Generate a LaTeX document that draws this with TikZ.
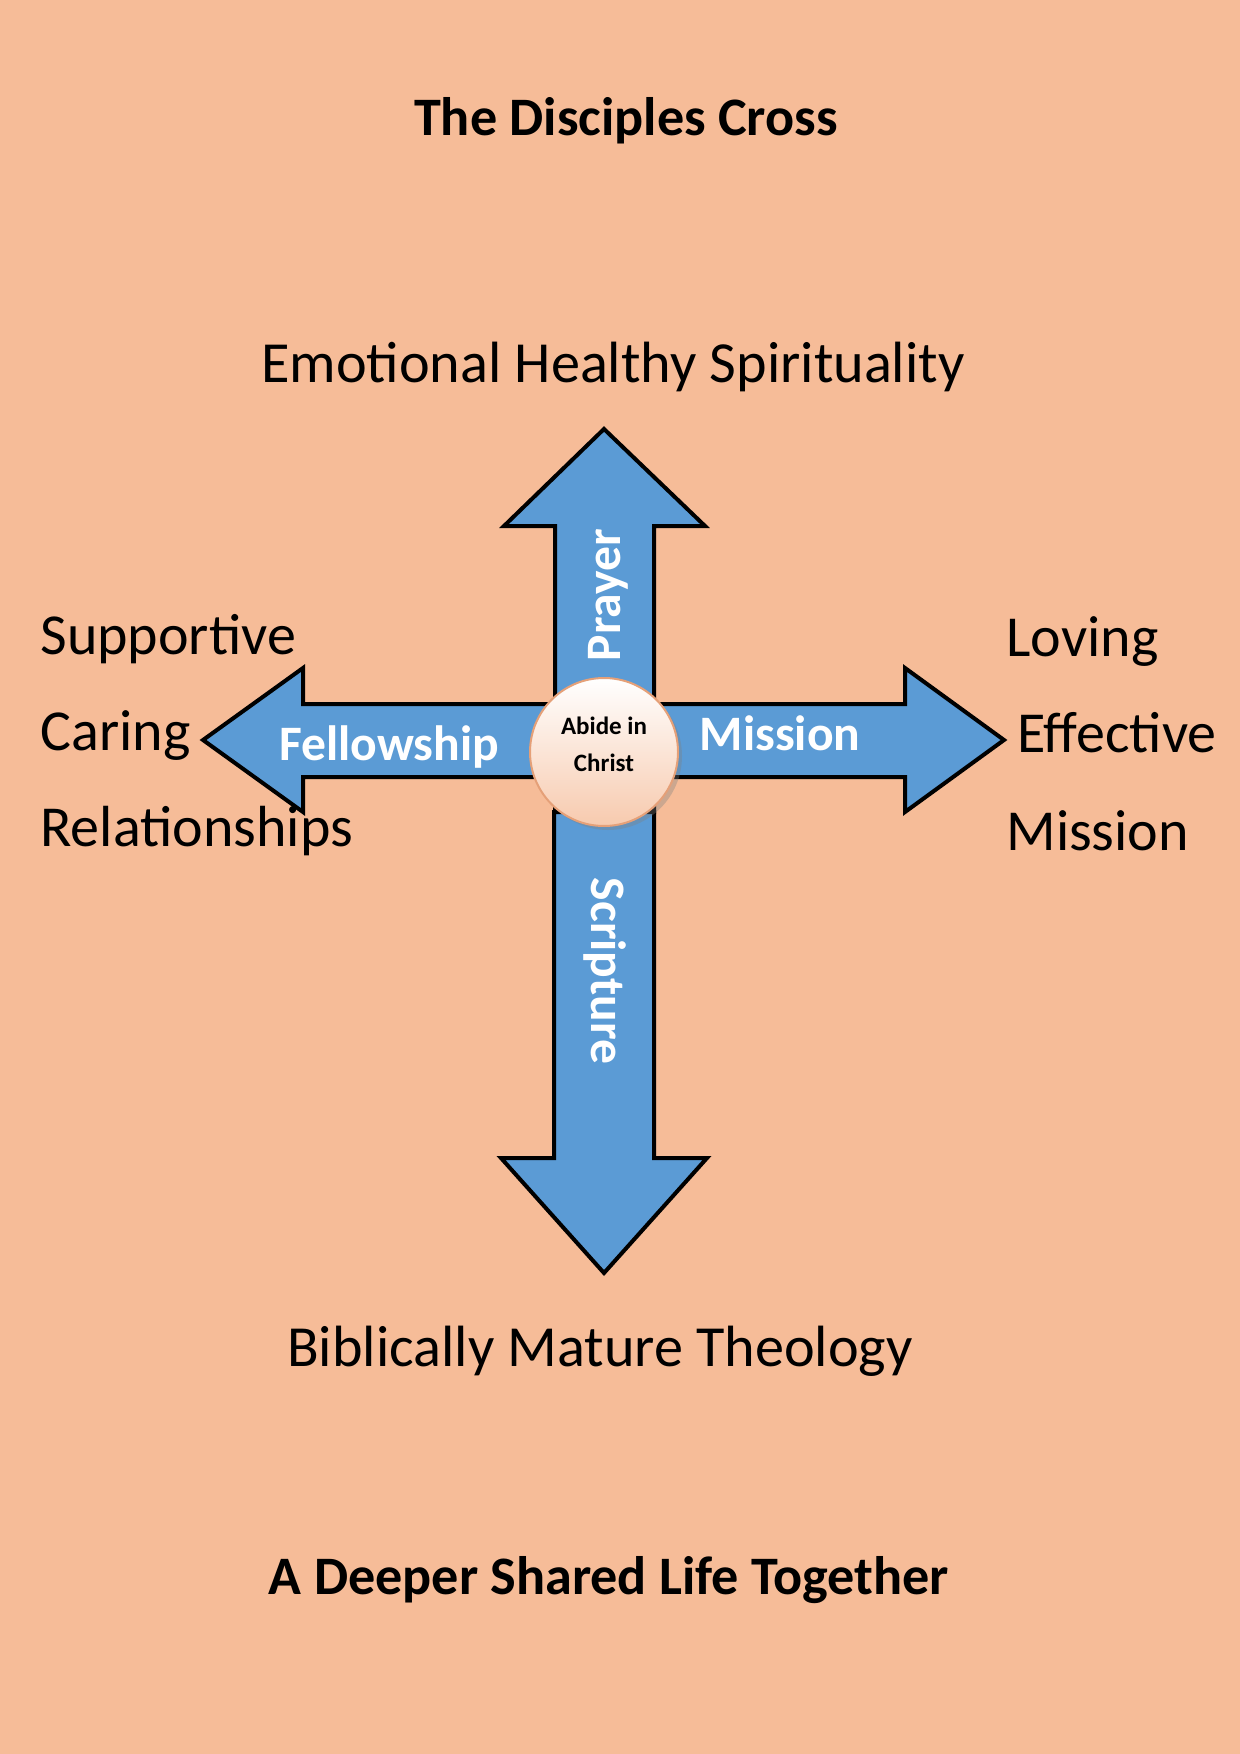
\documentclass[tikz,border=0pt]{standalone}
\usepackage{fontspec}
\setmainfont{Carlito}
\usetikzlibrary{positioning,shadows}
\definecolor{pagebg}{HTML}{F6BC98}
\definecolor{armblue}{HTML}{5B9BD5}
\definecolor{hubrim}{HTML}{E5A078}
\definecolor{hubfill}{HTML}{F7CAAE}
\tikzset{
  crossarm/.style  ={draw=black,line width=2pt,fill=armblue,line join=miter},
  armlabel/.style  ={text=white,font=\bfseries\fontsize{24.8}{28}\selectfont,inner sep=0pt,anchor=base},
  hub/.style       ={circle,draw=hubrim,line width=1pt,minimum size=74pt,top color=white,bottom color=hubfill,
                     align=center,font=\bfseries\fontsize{12.5}{18.5}\selectfont,text depth=8pt,
                     drop shadow={shadow xshift=2pt,shadow yshift=-2pt,opacity=0.35}},
  headtext/.style  ={font=\bfseries\fontsize{27.1}{32}\selectfont,inner sep=0pt,anchor=base},
  bigtext/.style   ={font=\fontsize{29.1}{34}\selectfont,inner sep=0pt,anchor=base},
  sidetext/.style  ={font=\fontsize{29}{34}\selectfont,inner sep=0pt,anchor=base west}
}
\begin{document}
\begin{tikzpicture}[x=0.5pt,y=-0.5pt]
  \fill[pagebg] (0,0) rectangle (1240,1754);
  \useasboundingbox (0,0) rectangle (1240,1754);
  % the four arms
  \draw[crossarm] (555,812) -- (555,526) -- (504,526) -- (604,429) -- (705,526) -- (654,526) -- (654,812) -- cycle;
  \draw[crossarm] (203,740) -- (303,668) -- (303,704) -- (905,704) -- (905,668) -- (1004,740)
                  -- (905,812) -- (905,777) -- (303,777) -- (303,812) -- cycle;
  \draw[crossarm] (554,812) -- (654,812) -- (654,1158) -- (707,1158) -- (604,1273) -- (501,1158) -- (554,1158) -- cycle;
  \node[armlabel,rotate=90]  (prayer)     at (620,595) {Prayer};
  \node[armlabel,rotate=-90] (scripture)  at (591,971) {Scripture};
  \node[armlabel]            (fellowship) at (389,760) {Fellowship};
  \node[armlabel]            (mission)    at (780,750) {Mission};
  \node[hub] (abide) at (604,752) {Abide in\\Christ};
  % texts round the cross
  \node[headtext] (title)    at (626,136)  {The Disciples Cross};
  \node[bigtext]  (ehs)      at (613,383)  {Emotional Healthy Spirituality};
  \node[bigtext]  (bmt)      at (600,1366) {Biblically Mature Theology};
  \node[headtext] (together) at (609,1594) {A Deeper Shared Life Together};
  \node[sidetext] (supportive) at (40,654) {Supportive};
  \node[sidetext,below=48pt of supportive.base west,anchor=base west] (caring) {Caring};
  \node[sidetext,below=48pt of caring.base west,anchor=base west]     (relations) {Relationships};
  \node[sidetext] (loving) at (1006,656) {Loving};
  \node[sidetext,below=48pt of loving.base west,anchor=base west,xshift=5.5pt] (effective) {Effective};
  \node[sidetext,below=49pt of loving.base west,yshift=-48pt,anchor=base west] (missiontxt) {Mission};
\end{tikzpicture}
\end{document}
